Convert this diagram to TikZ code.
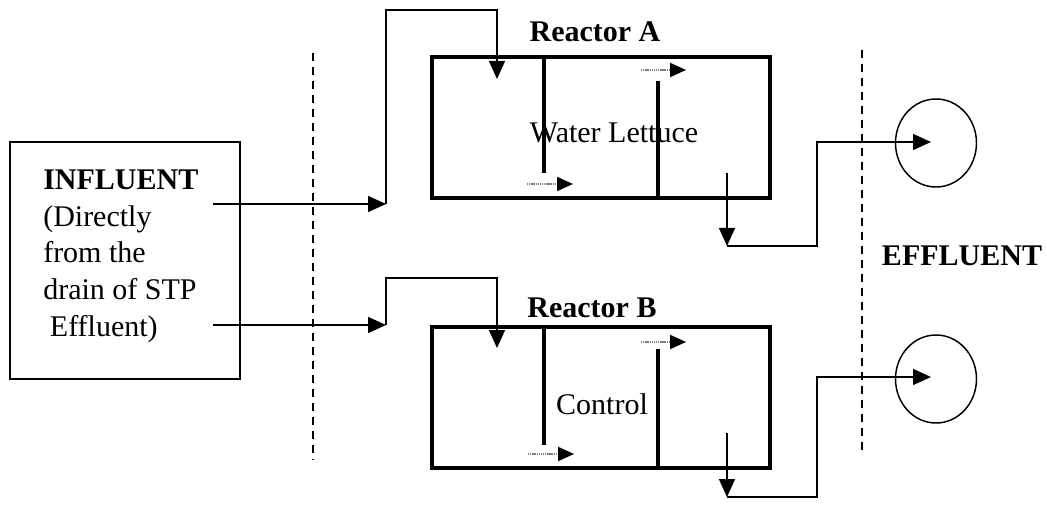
\documentclass[tikz,border=0pt]{standalone}
\usepackage{fontspec}
\setmainfont{Liberation Serif}
\usetikzlibrary{arrows.meta,shapes.geometric}
\begin{document}
\begin{tikzpicture}[x=0.75pt,y=-0.75pt,
  pipe/.style={line width=1.1pt},
  bigtip/.style={-{Triangle[length=13.5pt,width=12pt]}},
  flow/.style={line width=1.6pt, dash pattern=on 1pt off 0.6pt, black!50, -{Triangle[length=12pt,width=10.5pt,color=black]}},
  wall/.style={draw, line width=3pt, inner sep=0, minimum width=253.5pt, minimum height=105.75pt},
  baffle/.style={line width=3pt},
  outlet/.style={ellipse, draw, line width=1.1pt, minimum width=60.75pt, minimum height=66pt, inner sep=0},
  border/.style={line width=1.5pt, dash pattern=on 6pt off 4.5pt},
  lbl/.style={inner sep=0, anchor=base, font=\fontsize{22.5}{27}\selectfont},
  blbl/.style={lbl, font=\fontsize{22.5}{27}\selectfont\bfseries}
]
\useasboundingbox (0,0) rectangle (1047,506);

% influent box
\node[draw, line width=1.5pt, inner sep=0, minimum width=172.5pt, minimum height=177.75pt] (infl) at (125,260.5) {};
\node[inner sep=0, anchor=north west, align=left, font=\fontsize{22.5}{27.4}\selectfont] (infltxt) at (43,170)
  {\textbf{INFLUENT}\\(Directly\\from the\\drain of STP\\\hspace{5pt}Effluent)};

% dashed boundaries
\coordinate (d1t) at (313,53); \coordinate (d1b) at (313,460);
\coordinate (d2t) at (862,50); \coordinate (d2b) at (862,455);
\draw[border] (d1t) -- (d1b);
\draw[border] (d2t) -- (d2b);

% reactors
\node[wall] (ra) at (601,127.5) {};
\node[wall] (rb) at (601,397.5) {};
\node[blbl] (ral) at (595,42) {Reactor A};
\node[blbl] (rbl) at (592,318) {Reactor B};
\node[lbl] (wl) at (614,143) {Water Lettuce};
\node[lbl] (ctl) at (602,414) {Control};
\node[blbl] (eff) at (962,266) {EFFLUENT};

% baffles
\coordinate (a1t) at (544,57);  \coordinate (a1b) at (544,173);
\coordinate (a2t) at (658,81);  \coordinate (a2b) at (658,198);
\coordinate (b1t) at (544,327); \coordinate (b1b) at (544,445);
\coordinate (b2t) at (658,349); \coordinate (b2b) at (658,468);
\draw[baffle] (a1t) -- (a1b);
\draw[baffle] (a2t) -- (a2b);
\draw[baffle] (b1t) -- (b1b);
\draw[baffle] (b2t) -- (b2b);

% internal flow arrows
\coordinate (fa1s) at (641,70);  \coordinate (fa1e) at (686,70);
\coordinate (fa2s) at (527,184); \coordinate (fa2e) at (573,184);
\coordinate (fb1s) at (641,342); \coordinate (fb1e) at (686,342);
\coordinate (fb2s) at (528,454); \coordinate (fb2e) at (574,454);
\draw[flow] (fa1s) -- (fa1e);
\draw[flow] (fa2s) -- (fa2e);
\draw[flow] (fb1s) -- (fb1e);
\draw[flow] (fb2s) -- (fb2e);

% outlet circles
\node[outlet] (oa) at (936,143) {};
\node[outlet] (ob) at (936,379) {};

% inlet pipes
\coordinate (ia0) at (213,204); \coordinate (ia1) at (386,204);
\coordinate (iatop) at (497,10); \coordinate (iaend) at (497,79);
\draw[pipe,bigtip] (ia0) -- (ia1);
\draw[pipe,bigtip] (ia1) |- (iatop) -- (iaend);

\coordinate (ib0) at (213,325); \coordinate (ib1) at (386,325);
\coordinate (ibtop) at (497,278); \coordinate (ibend) at (497,348);
\draw[pipe,bigtip] (ib0) -- (ib1);
\draw[pipe,bigtip] (ib1) |- (ibtop) -- (ibend);

% outlet pipes
\coordinate (oa0) at (727,173); \coordinate (oa1) at (727,246);
\coordinate (oa2) at (817,142); \coordinate (oa3) at (931,142);
\draw[pipe,bigtip] (oa0) -- (oa1);
\draw[pipe,bigtip] (oa1) -| (oa2) -- (oa3);

\coordinate (ob0) at (727,433); \coordinate (ob1) at (727,497);
\coordinate (ob2) at (817,377); \coordinate (ob3) at (931,377);
\draw[pipe,bigtip] (ob0) -- (ob1);
\draw[pipe,bigtip] (ob1) -| (ob2) -- (ob3);
\end{tikzpicture}
\end{document}
